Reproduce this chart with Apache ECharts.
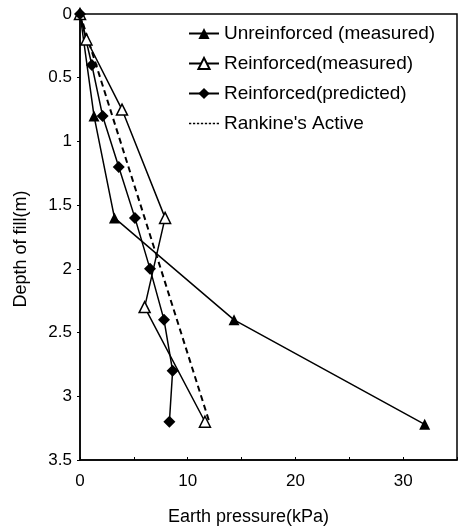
<!DOCTYPE html>
<html>
<head>
<meta charset="utf-8">
<script src="https://cdn.jsdelivr.net/npm/echarts@6/dist/echarts.min.js"></script>
<style>
  html, body { margin: 0; padding: 0; background: #fff; }
  #chart { width: 460px; height: 531px; }
</style>
</head>
<body>
<div id="chart"></div>
<script>
// [pressure kPa, depth m]
var unreinforcedMeasured = [[0, 0], [1.3, 0.8], [3.2, 1.6], [14.3, 2.4], [32, 3.22]]
var reinforcedMeasured = [[0, 0], [0.6, 0.2], [3.9, 0.75], [7.9, 1.6], [6.0, 2.3], [11.6, 3.2]]
var reinforcedPredicted = [[0, 0], [1.1, 0.4], [2.1, 0.8], [3.6, 1.2], [5.1, 1.6], [6.5, 2.0], [7.8, 2.4], [8.6, 2.8], [8.3, 3.2]]
var rankineActive = [[0, 0], [12, 3.2]]
var xTicks = [0, 10, 20, 30]

var chart = echarts.init(document.getElementById('chart'))
var font = 'Liberation Sans, Arial, sans-serif'
// dotted legend mark for the Rankine line
var dottedIcon = 'path://M0,0h2v1.2h-2z M3.5,0h2v1.2h-2z M7,0h2v1.2h-2z M10.5,0h2v1.2h-2z M14,0h2v1.2h-2z M17.5,0h2v1.2h-2z M21,0h2v1.2h-2z M24.5,0h2v1.2h-2z'

chart.setOption({
  animation: false,
  grid: {
    left: 80,
    top: 14,
    right: 2,
    bottom: 69,
    show: true,
    borderColor: '#000',
    borderWidth: 1.5
  },
  legend: {
    orient: 'vertical',
    left: 183,
    top: 19,
    itemGap: 11,
    itemWidth: 30,
    itemHeight: 14,
    textStyle: { color: '#000', fontSize: 19, fontFamily: font },
    data: [
      'Unreinforced (measured)',
      'Reinforced(measured)',
      'Reinforced(predicted)',
      { name: "Rankine's Active", icon: dottedIcon }
    ]
  },
  xAxis: {
    type: 'value',
    position: 'bottom',
    min: 0,
    max: 35,
    interval: 5,
    name: 'Earth pressure(kPa)',
    nameLocation: 'middle',
    nameGap: 48,
    nameTextStyle: { color: '#000', fontSize: 18, fontFamily: font, padding: [0, 40, 0, 0] },
    axisLine: { onZero: false, lineStyle: { color: '#000', width: 1.5 } },
    axisTick: { show: true, inside: true, length: 3, lineStyle: { color: '#000' } },
    axisLabel: {
      color: '#000', fontSize: 17, fontFamily: font, margin: 13,
      formatter: function (v) { return xTicks.indexOf(v) >= 0 ? String(v) : '' }
    },
    splitLine: { show: false }
  },
  yAxis: {
    type: 'value',
    inverse: true,
    min: 0,
    max: 3.5,
    interval: 0.5,
    name: 'Depth of fill(m)',
    nameLocation: 'middle',
    nameGap: 50,
    nameTextStyle: { color: '#000', fontSize: 18, fontFamily: font, padding: [0, 24, 0, 0] },
    axisLine: { onZero: false, lineStyle: { color: '#000', width: 1.5 } },
    axisTick: { show: true, length: 3, lineStyle: { color: '#000' } },
    axisLabel: { color: '#000', fontSize: 17, fontFamily: font, margin: 8 },
    splitLine: { show: false }
  },
  series: [{
    name: 'Unreinforced (measured)',
    type: 'line',
    data: unreinforcedMeasured,
    symbol: 'triangle',
    symbolSize: 11,
    itemStyle: { color: '#000' },
    lineStyle: { color: '#000', width: 1.5 }
  }, {
    name: 'Reinforced(measured)',
    type: 'line',
    data: reinforcedMeasured,
    symbol: 'triangle',
    symbolSize: 11,
    itemStyle: { color: '#fff', borderColor: '#000', borderWidth: 1.5 },
    lineStyle: { color: '#000', width: 1.5 }
  }, {
    name: 'Reinforced(predicted)',
    type: 'line',
    data: reinforcedPredicted,
    symbol: 'diamond',
    symbolSize: 12,
    itemStyle: { color: '#000' },
    lineStyle: { color: '#000', width: 1.5 }
  }, {
    name: "Rankine's Active",
    type: 'line',
    data: rankineActive,
    symbol: 'none',
    itemStyle: { color: '#000' },
    lineStyle: { color: '#000', width: 2, type: [6, 4] }
  }]
})
</script>
</body>
</html>
